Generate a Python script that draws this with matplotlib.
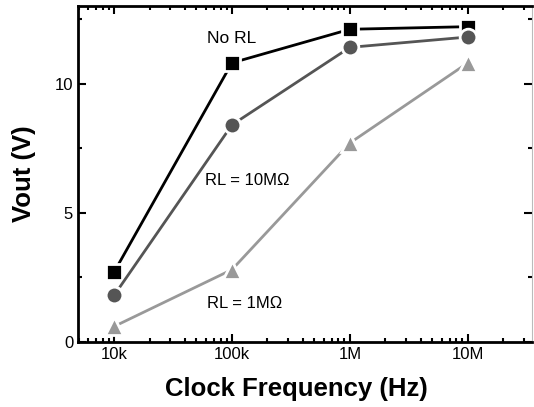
import numpy as np
import matplotlib.pyplot as plt
from matplotlib.ticker import LogLocator, FixedLocator

plt.rcParams['font.family'] = ['Liberation Sans', 'DejaVu Sans']

# Data
freq = [1e4, 1e5, 1e6, 1e7]
no_rl = [2.7, 10.8, 12.1, 12.2]
rl_10m = [1.8, 8.4, 11.4, 11.8]
rl_1m = [0.6, 2.8, 7.7, 10.8]

fig = plt.figure(figsize=(5.34, 4.07), dpi=100)
ax = fig.add_axes([78 / 534, 1 - 342 / 407, (532 - 78) / 534, (342 - 6) / 407])

ax.plot(freq, no_rl, color='black', lw=2, marker='s', ms=11, mec='white', mew=2, mfc='black')
ax.plot(freq, rl_10m, color='#555555', lw=2, marker='o', ms=12, mec='white', mew=2, mfc='#555555')
ax.plot(freq, rl_1m, color='#999999', lw=2, marker='^', ms=13, mec='white', mew=2, mfc='#999999')

ax.set_xscale('log')
ax.set_xlim(4950, 3.5e7)
ax.set_ylim(0, 13)
ax.set_xticks(freq)
ax.set_xticklabels(['10k', '100k', '1M', '10M'])
ax.xaxis.set_minor_locator(LogLocator(base=10, subs=np.arange(2, 10)))
ax.set_yticks([0, 5, 10])
ax.yaxis.set_minor_locator(FixedLocator([2.5, 7.5, 12.5]))

ax.tick_params(which='both', direction='in', top=True, right=True, width=1.5, labelsize=12)
ax.tick_params(which='major', length=6)
ax.tick_params(which='minor', length=3)
for s in ['left', 'bottom', 'top']:
    ax.spines[s].set_linewidth(2)
ax.spines['right'].set_color('#bbbbbb')

ax.set_xlabel('Clock Frequency (Hz)', fontsize=18.5, fontweight='bold')
ax.xaxis.set_label_coords(0.48, -0.105)
ax.set_ylabel('Vout (V)', fontsize=18.5, fontweight='bold')
ax.yaxis.set_label_coords(-0.092, 0.5)

ax.text(1.0e5, 11.74, 'No RL', fontsize=12.5, ha='center', va='center')
ax.text(1.34e5, 6.25, 'RL = 10M\u03a9', fontsize=12, ha='center', va='center')
ax.text(1.29e5, 1.5, 'RL = 1M\u03a9', fontsize=12, ha='center', va='center')

fig.savefig('out.png', dpi=100)
